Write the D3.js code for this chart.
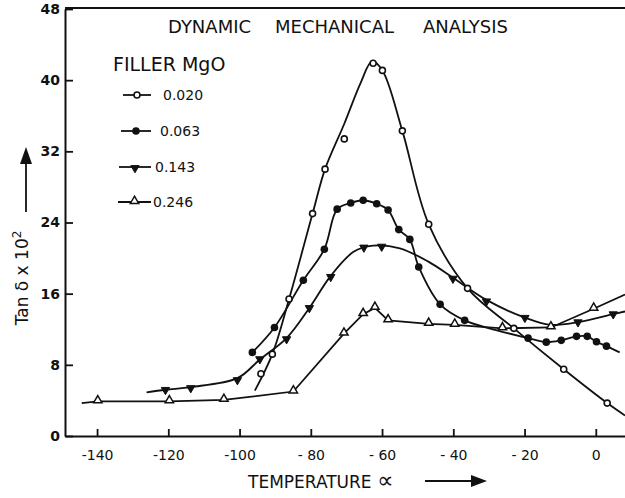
<!DOCTYPE html>
<html>
<head>
<meta charset="utf-8">
<script src="https://cdn.jsdelivr.net/npm/d3@7"></script>
<style>
  body { margin: 0; background: #fff; }
  svg { display: block; }
  text { font-family: "DejaVu Sans", sans-serif; fill: #111; }
</style>
</head>
<body>
<script>
// tick values
var xTicks = [-140, -120, -100, -80, -60, -40, -20, 0];
var xTickLabels = ["-140", "-120", "-100", "- 80", "- 60", "- 40", "- 20", "0"];
var yTicks = [0, 8, 16, 24, 32, 40, 48];

// legend
var seriesNames = ["0.020", "0.063", "0.143", "0.246"];

// 0.020 (open circles)
var tempA = [-94.0, -90.8, -86.1, -79.5, -76.0, -70.6, -62.5, -59.9, -54.3, -46.9, -36.0, -23.0, -9.0, 3.2];
var tanA  = [7.0, 9.2, 15.4, 25.0, 30.0, 33.4, 41.9, 41.1, 34.3, 23.8, 16.6, 12.1, 7.5, 3.7];
var curveTempA = [-95.7, -90.8, -86.1, -79.5, -76.0, -70.6, -66.0, -62.8, -59.9, -54.3, -46.9, -36.0, -23.0, -9.0, 3.2, 8.2];
var curveTanA  = [5.1, 9.2, 15.4, 25.0, 30.0, 35.1, 39.7, 42.1, 41.1, 34.3, 23.8, 16.6, 12.1, 7.5, 3.7, 2.3];

// 0.063 (filled circles)
var tempB = [-96.4, -90.2, -82.1, -76.2, -72.6, -68.8, -65.3, -61.5, -58.3, -55.3, -52.2, -49.7, -43.7, -36.8, -19.0, -13.9, -9.7, -5.4, -2.4, 0.2, 3.0];
var tanB  = [9.4, 12.2, 17.5, 21.0, 25.5, 26.2, 26.5, 26.1, 25.4, 23.2, 22.1, 19.0, 14.8, 13.0, 11.0, 10.55, 10.75, 11.2, 11.2, 10.6, 10.1];
var curveTempB = [-96.4, -90.2, -82.1, -76.2, -72.6, -68.8, -65.3, -61.5, -58.3, -55.3, -52.2, -49.7, -43.7, -36.8, -28.0, -19.0, -13.9, -9.7, -5.4, -2.4, 0.2, 3.0, 6.7];
var curveTanB  = [9.4, 12.2, 17.5, 21.0, 25.5, 26.2, 26.5, 26.1, 25.4, 23.2, 22.1, 19.0, 14.8, 13.0, 11.9, 11.0, 10.55, 10.75, 11.2, 11.2, 10.6, 10.1, 9.4];

// 0.143 (filled down-triangles)
var tempC = [-120.8, -113.7, -100.6, -94.3, -86.8, -80.4, -74.4, -65.1, -60.1, -40.1, -30.7, -19.9, -5.0, 4.9];
var tanC  = [5.3, 5.5, 6.4, 8.75, 11.0, 14.5, 18.0, 21.3, 21.4, 17.8, 15.25, 13.4, 12.9, 13.8];
var curveTempC = [-126.1, -120.8, -113.7, -100.6, -94.3, -86.8, -80.4, -74.4, -68.0, -62.5, -55.0, -47.0, -40.1, -30.7, -19.9, -12.8, -5.0, 4.9, 8.2];
var curveTanC  = [4.9, 5.2, 5.5, 6.5, 8.6, 11.0, 14.4, 18.0, 20.7, 21.4, 21.1, 19.6, 17.8, 15.3, 13.3, 12.5, 12.8, 13.7, 14.0];

// 0.246 (open up-triangles)
var tempD = [-139.8, -119.7, -104.4, -84.9, -70.7, -65.3, -62.0, -58.3, -46.9, -39.6, -26.2, -12.6, -0.6];
var tanD  = [3.9, 3.9, 4.05, 5.0, 11.5, 13.7, 14.4, 13.0, 12.6, 12.5, 12.1, 12.2, 14.3];
var curveTempD = [-144.3, -139.8, -119.7, -104.4, -84.9, -70.7, -65.3, -62.0, -58.3, -46.9, -39.6, -26.2, -12.6, -0.6, 8.2];
var curveTanD  = [3.7, 3.9, 3.9, 4.05, 5.0, 11.5, 13.7, 14.4, 13.0, 12.6, 12.5, 12.1, 12.2, 14.3, 15.9];

var W = 625, H = 498;
var plotL = 65, plotR = 625, plotT = 9, plotB = 436;

var x = d3.scaleLinear().domain([-149, 8.2]).range([plotL, plotR]);
var y = d3.scaleLinear().domain([0, 48]).range([plotB, plotT]);

var svg = d3.select("body").append("svg")
    .attr("width", W)
    .attr("height", H);

// top line of the frame
svg.append("line")
    .attr("x1", plotL).attr("y1", plotT - 1)
    .attr("x2", plotR).attr("y2", plotT - 1)
    .style("stroke", "#111").style("stroke-width", 2);

var xAxis = svg.append("g")
    .attr("transform", "translate(0," + plotB + ")")
    .call(d3.axisBottom(x).tickValues(xTicks).tickSizeInner(-7).tickSizeOuter(0)
        .tickPadding(14)
        .tickFormat(function(d, i) { return xTickLabels[i]; }));
xAxis.select(".domain").style("stroke", "#111").style("stroke-width", 2);
xAxis.selectAll(".tick line").style("stroke", "#111").style("stroke-width", 1.8);
xAxis.selectAll("text").style("font-size", "14px").style("font-family", "DejaVu Sans").attr("fill", "#111");

var yAxis = svg.append("g")
    .attr("transform", "translate(" + plotL + ",0)")
    .call(d3.axisLeft(y).tickValues(yTicks).tickSizeInner(-8).tickSizeOuter(0)
        .tickPadding(5));
yAxis.select(".domain").style("stroke", "#111").style("stroke-width", 2);
yAxis.selectAll(".tick line").style("stroke", "#111").style("stroke-width", 1.8);
yAxis.selectAll("text").style("font-size", "14px").style("font-family", "DejaVu Sans")
    .style("font-weight", "bold").attr("fill", "#111");

// curves
var smooth = d3.line()
    .x(function(d) { return x(d[0]); })
    .y(function(d) { return y(d[1]); })
    .curve(d3.curveCatmullRom.alpha(0.5));
var straight = d3.line()
    .x(function(d) { return x(d[0]); })
    .y(function(d) { return y(d[1]); });

function zip(a, b) { return a.map(function(v, i) { return [v, b[i]]; }); }

var plot = svg.append("g");
plot.append("path").attr("d", smooth(zip(curveTempA, curveTanA)));
plot.append("path").attr("d", smooth(zip(curveTempB, curveTanB)));
plot.append("path").attr("d", smooth(zip(curveTempC, curveTanC)));
plot.append("path").attr("d", straight(zip(curveTempD, curveTanD)));
plot.selectAll("path")
    .style("fill", "none")
    .style("stroke", "#111")
    .style("stroke-width", 1.8);

// markers
var triUp = d3.symbol().type(d3.symbolTriangle).size(30);
function drawMarker(g, kind, px, py) {
    if (kind === 0) {
        g.append("circle").attr("cx", px).attr("cy", py).attr("r", 3)
            .style("fill", "#fff").style("stroke", "#111").style("stroke-width", 1.6);
    } else if (kind === 1) {
        g.append("circle").attr("cx", px).attr("cy", py).attr("r", 3.8)
            .style("fill", "#111");
    } else if (kind === 2) {
        g.append("path").attr("d", triUp())
            .attr("transform", "translate(" + px + "," + (py + 1) + ") rotate(180)")
            .style("fill", "#111").style("stroke", "#111").style("stroke-width", 1);
    } else {
        g.append("path").attr("d", triUp())
            .attr("transform", "translate(" + px + "," + (py - 1) + ")")
            .style("fill", "#fff").style("stroke", "#111").style("stroke-width", 1.5);
    }
}

var marks = svg.append("g");
[[tempA, tanA], [tempB, tanB], [tempC, tanC], [tempD, tanD]].forEach(function(s, k) {
    s[0].forEach(function(t, i) {
        drawMarker(marks, k, x(t), y(s[1][i]));
    });
});

// title, words spaced apart as in the original
var titleWords = ["DYNAMIC", "MECHANICAL", "ANALYSIS"];
var titleX = [168, 275, 423];
titleWords.forEach(function(w, i) {
    svg.append("text").attr("x", titleX[i]).attr("y", 33)
        .style("font-size", "18px")
        .text(w);
});

// legend
svg.append("text").attr("x", 113).attr("y", 71)
    .style("font-size", "19px")
    .text("FILLER  MgO");

var legY = [95, 131, 167, 202];
var legX1 = [123, 121, 119, 118];
var legText = [163, 160, 155, 153];
seriesNames.forEach(function(name, i) {
    svg.append("line")
        .attr("x1", legX1[i]).attr("x2", 151)
        .attr("y1", legY[i]).attr("y2", legY[i])
        .style("stroke", "#111").style("stroke-width", 1.8);
    drawMarker(svg, i, (legX1[i] + 151) / 2, legY[i]);
    svg.append("text").attr("x", legText[i]).attr("y", legY[i] + 5)
        .style("font-size", "14px")
        .text(name);
});

// y label with arrow
svg.append("text")
    .attr("transform", "translate(28,278) rotate(-90)")
    .attr("text-anchor", "middle")
    .style("font-size", "17px")
    .html("Tan &#948; x 10<tspan dy='-7' font-size='12px'>2</tspan>");
svg.append("line")
    .attr("x1", 26).attr("y1", 212).attr("x2", 26).attr("y2", 160)
    .style("stroke", "#111").style("stroke-width", 1.8);
svg.append("path")
    .attr("d", d3.line()([[20, 164], [26, 147], [32, 164]]))
    .style("fill", "#111");

// x label with arrow
svg.append("text").attr("x", 248).attr("y", 488)
    .style("font-size", "17px")
    .html("TEMPERATURE <tspan font-size='23px'>\u221D</tspan>");
svg.append("line")
    .attr("x1", 425).attr("y1", 481).attr("x2", 475).attr("y2", 481)
    .style("stroke", "#111").style("stroke-width", 1.8);
svg.append("path")
    .attr("d", d3.line()([[471, 475], [487, 481], [471, 487]]))
    .style("fill", "#111");
</script>
</body>
</html>
